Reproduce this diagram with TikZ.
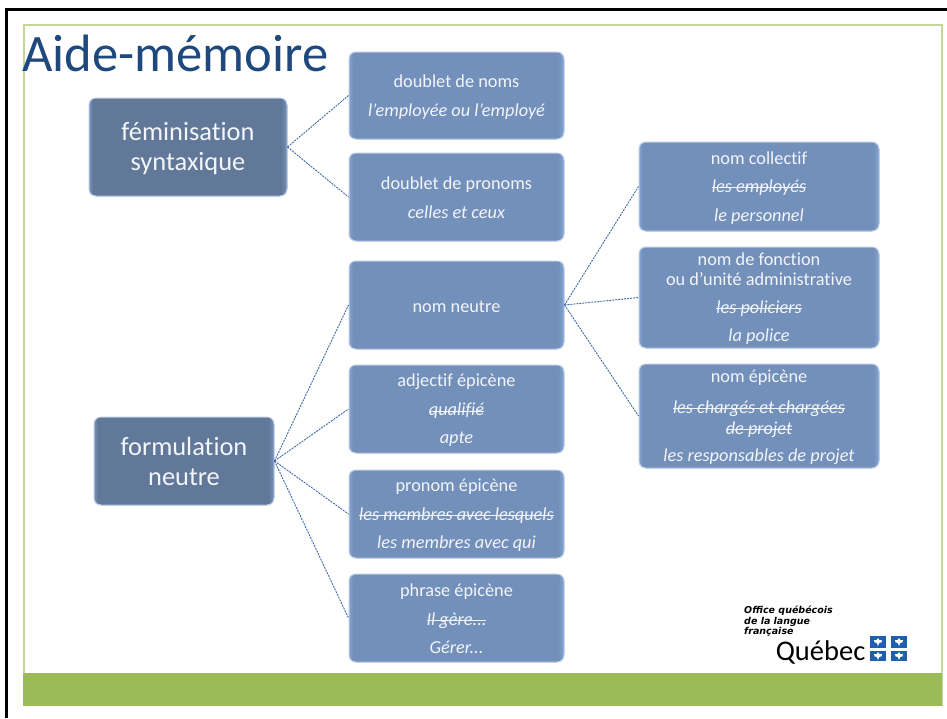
\documentclass[tikz,border=0pt]{standalone}
\usepackage{fontspec}
\setmainfont[Ligatures=NoCommon]{Carlito}
\newfontfamily\logofont{DejaVu Sans}
\usetikzlibrary{calc}
\definecolor{titleblue}{HTML}{1F497D}
\definecolor{bandgreen}{HTML}{9BBB59}
\definecolor{framegreen}{HTML}{C3D69B}
\definecolor{boxfill}{HTML}{7390BA}
\definecolor{boxedge}{HTML}{BCCBE2}
\definecolor{boxlight}{HTML}{82A3D3}
\definecolor{boxdark}{HTML}{6C8AB5}
\definecolor{bigfill}{HTML}{617899}
\definecolor{biglight}{HTML}{7692BA}
\definecolor{bigdark}{HTML}{6A84A6}
\definecolor{linkblue}{HTML}{3F6AA6}
\definecolor{flagblue}{HTML}{1F5FAE}
\definecolor{softwhite}{HTML}{F2F5FA}
\newcommand{\strk}[1]{\leavevmode\setbox0=\hbox{#1}\rlap{\rule[0.24em]{\wd0}{0.7pt}}\box0}
\newcommand{\dn}{\rule{0pt}{15pt}}
\tikzset{
  x=1pt,y=-1pt,
  bevel/.style n args={3}{path picture={
      \coordinate (nw) at (path picture bounding box.north west);
      \coordinate (ne) at (path picture bounding box.north east);
      \coordinate (sw) at (path picture bounding box.south west);
      \coordinate (se) at (path picture bounding box.south east);
      \fill[top color=#2,bottom color=#1] (nw) rectangle ($(ne)+(0,5pt)$);
      \fill[left color=#2,right color=#1] (nw) rectangle ($(sw)+(4pt,0)$);
      \fill[top color=#1,bottom color=#3] ($(sw)+(0,-6pt)$) rectangle (se);
      \fill[left color=#1,right color=#2] ($(ne)+(-6pt,0)$) rectangle (se);
    }},
  smallbox/.style={rounded corners=7pt,draw=boxedge,line width=1pt,fill=boxfill,text=softwhite,align=center,inner sep=0pt,font=\fontsize{18.3}{20}\selectfont,bevel={boxfill}{boxlight}{boxdark}},
  bigbox/.style={rounded corners=7pt,draw=boxedge,line width=1pt,fill=bigfill,text=softwhite,align=center,inner sep=0pt,font=\fontsize{26.4}{30}\selectfont,bevel={bigfill}{biglight}{bigdark}},
  link/.style={draw=linkblue,line width=0.9pt,dash pattern=on 2pt off 1pt},
  flagsq/.style={fill=flagblue,inner sep=0pt,minimum width=15.5pt,minimum height=11.5pt},
}
\begin{document}
\begin{tikzpicture}
\useasboundingbox (0,0) rectangle (947,718);
\fill[white] (0,0) rectangle (947,718);
% outer frame
\draw[black,line width=3pt] (6.5,718) -- (6.5,9) -- (947,9);
% slide
\draw[framegreen,line width=2pt] (23.5,706) -- (23.5,24.5) -- (941.5,24.5) -- (941.5,706);
\fill[bandgreen] (23,673) rectangle (942,706);
\node[anchor=west,text=titleblue,inner sep=0pt,font=\fontsize{52.6}{60}\selectfont] (title) at (22,53) {Aide-mémoire};
% boxes
\node[bigbox,minimum width=198pt,minimum height=98pt] (fem) at (188,147) {\rule{0pt}{22pt}féminisation\\syntaxique};
\node[bigbox,minimum width=180pt,minimum height=88pt] (form) at (184,461) {\rule{0pt}{19pt}formulation\\neutre};
\node[smallbox,minimum width=215pt,minimum height=87pt] (a) at (456.5,95.5) {\dn doublet de noms\\[9pt]\textit{l’employée ou l’employé}};
\node[smallbox,minimum width=215pt,minimum height=88pt] (b) at (456.5,197) {\dn doublet de pronoms\\[9pt]\textit{celles et ceux}};
\node[smallbox,minimum width=215pt,minimum height=88pt] (c) at (456.5,305) {\dn nom neutre};
\node[smallbox,minimum width=215pt,minimum height=88pt] (d) at (456.5,409) {\dn adjectif épicène\\[9.5pt]\textit{\strk{qualifié}}\\[8pt]\textit{apte}};
\node[smallbox,minimum width=215pt,minimum height=88pt] (e) at (456.5,514) {\dn pronom épicène\\[8.5pt]\textit{\strk{les membres avec lesquels}}\\[8.5pt]\textit{les membres avec qui}};
\node[smallbox,minimum width=215pt,minimum height=88pt] (f) at (456.5,618) {\dn phrase épicène\\[8.5pt]\textit{\strk{Il gère...}}\\[8.5pt]\textit{Gérer...}};
\node[smallbox,minimum width=240pt,minimum height=89pt] (g) at (759,186.5) {\dn nom collectif\\[8.5pt]\textit{\strk{les employés}}\\[8.5pt]\textit{le personnel}};
\node[smallbox,minimum width=240pt,minimum height=101pt] (h) at (759,297.5) {\dn nom de fonction\\ou d’unité administrative\\[7.5pt]\textit{\strk{les policiers}}\\[8.5pt]\textit{la police}};
\node[smallbox,minimum width=240pt,minimum height=104pt] (i) at (759,416) {\dn nom épicène\\[10.5pt]\textit{\strk{les chargés et chargées}}\\[1pt]\textit{\strk{de projet}}\\[7pt]\textit{les responsables de projet}};
% connectors
\foreach \t in {a,b} \draw[link] (fem.east) -- (\t.west);
\foreach \t in {c,d,e,f} \draw[link] (form.east) -- (\t.west);
\foreach \t in {g,h,i} \draw[link] (c.east) -- (\t.west);
% logo
\node[anchor=north west,align=left,inner sep=0pt,font=\logofont\bfseries\itshape\fontsize{9.5}{10.2}\selectfont] (office) at (744,606) {Office québécois\\de la langue\\française};
\node[anchor=east,inner sep=0pt,font=\fontsize{28.5}{28.5}\selectfont] (quebec) at (865.5,652.5) {Québec};
\node[flagsq] (fa) at (878,642) {};
\node[flagsq] (fb) at (899,642) {};
\node[flagsq,minimum height=10.5pt] (fc) at (878,656) {};
\node[flagsq,minimum height=10.5pt] (fd) at (899,656) {};
% fleurs-de-lis as small white marks
\foreach \t in {fa,fb,fc,fd} {
  \fill[white] ($(\t.center)+(0,-4)$) -- ++(1.5,2.2) -- ++(2.6,-0.2) -- ++(-0.8,2.6) -- ++(-2,0.2) -- ++(-1.3,3.2) -- ++(-1.3,-3.2) -- ++(-2,-0.2) -- ++(-0.8,-2.6) -- ++(2.6,0.2) -- cycle;
}
\end{tikzpicture}
\end{document}
